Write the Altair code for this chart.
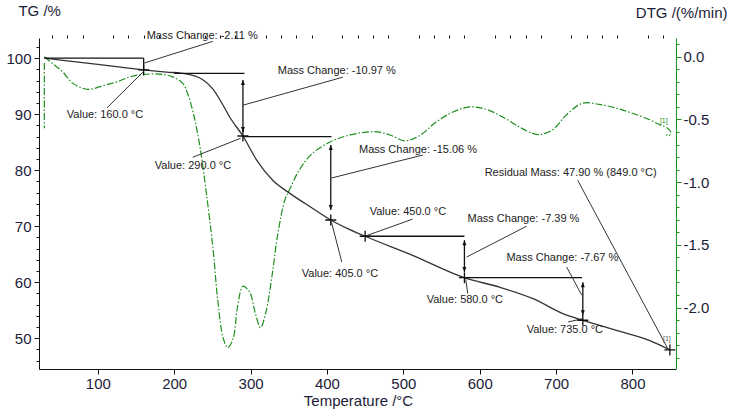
import altair as alt
import pandas as pd

# ---------------- data ----------------
TG_T = [30, 60, 100, 130, 160, 190, 210, 225, 237, 250, 264, 273, 290, 308, 329, 351, 381, 405, 425, 450, 512, 580, 626, 669, 714, 735, 779, 822, 849]
TG_V = [100, 99.5, 98.9, 98.4, 97.9, 97.5, 97.3, 96.9, 96.2, 94.6, 91.6, 89.4, 86.1, 81.8, 78.2, 75.9, 73.2, 71.1, 69.7, 68.2, 64.8, 60.8, 59.1, 57.1, 54.1, 53.2, 51.4, 49.6, 47.9]

DTG_T = [30, 42, 54, 67, 87, 107, 125, 142, 160, 185, 198, 211, 218, 225, 233, 243, 251, 257, 264, 270, 277, 283, 290, 299, 306, 313, 320, 328, 336, 345, 351, 364, 381, 404, 426, 452, 469, 485, 502, 521, 543, 565, 587, 609, 630, 652, 669, 679, 696, 714, 735, 757, 779, 800, 822, 835, 846, 850, 848, 844]
DTG_V = [0.0, -0.06, -0.12, -0.21, -0.26, -0.23, -0.20, -0.16, -0.14, -0.14, -0.16, -0.21, -0.30, -0.45, -0.69, -1.13, -1.54, -1.94, -2.24, -2.32, -2.25, -1.99, -1.83, -1.88, -2.04, -2.16, -2.04, -1.75, -1.40, -1.14, -1.06, -0.90, -0.77, -0.68, -0.63, -0.60, -0.60, -0.63, -0.67, -0.63, -0.52, -0.44, -0.40, -0.42, -0.48, -0.56, -0.61, -0.62, -0.58, -0.46, -0.37, -0.38, -0.41, -0.45, -0.50, -0.54, -0.57, -0.60, -0.63, -0.62]

DTG_START_T = [30]
DTG_START_TOP = [-0.05]
DTG_START_BOT = [-0.57]

# step lines (horizontal)
H_T1 = [30, 200, 290, 450, 580]
H_T2 = [160, 292, 406, 580, 734]
H_V = [100, 97.3, 86.0, 68.2, 60.8]

# plain vertical
PV_T = [160]
PV_TOP = [100]
PV_BOT = [97.9]

# double arrows
A_T = [290, 405, 580, 735]
A_TOP = [96.1, 84.5, 67.5, 60.0]
A_BOT = [86.8, 72.9, 61.8, 54.1]

# leader lines
L_T1 = [160.2, 111.8, 290, 224.3, 406, 406, 449.5, 583, 581.7, 733.5, 716, 728.3]
L_V1 = [99.1, 91.1, 91.6, 82.3, 78.6, 70.7, 68.2, 64.5, 60.5, 57.7, 52.9, 78.2]
L_T2 = [250.5, 159, 420.7, 287, 525.4, 419.4, 512, 661.5, 584.3, 713.9, 735, 846]
L_V2 = [103.0, 97.5, 96.6, 85.7, 82.7, 63.6, 71.25, 70.0, 58.0, 62.7, 53.5, 48.2]

# crosses
CR_T = [160, 290, 405, 450, 580, 735, 849]
CR_V = [97.9, 86.1, 71.1, 68.2, 60.8, 53.2, 47.9]

# labels
LBL = ["Mass Change: -2.11 %", "Value: 160.0 °C", "Mass Change: -10.97 %", "Value: 290.0 °C",
       "Mass Change: -15.06 %", "Value: 405.0 °C", "Value: 450.0 °C", "Mass Change: -7.39 %",
       "Value: 580.0 °C", "Mass Change: -7.67 %", "Value: 735.0 °C", "Residual Mass: 47.90 % (849.0 °C)"]
LBL_T = [164, 59.4, 335.6, 174.6, 442, 367, 456, 584, 530.6, 635, 661.5, 606.5]
LBL_V = [103.9, 89.8, 97.7, 80.7, 83.6, 61.4, 72.5, 71.25, 56.8, 64.3, 51.4, 79.5]

TAG_DTG_T = [841]
TAG_DTG_V = [-0.51]
TAG_TG_T = [845]
TAG_TG_V = [49.8]

# axis title of the TG scale, placed in data units (temperature, TG %)
TG_TITLE = "TG /%"
TG_TITLE_T = [-4]
TG_TITLE_V = [108.5]
DTG_TITLE = "DTG /(%/min)"
X_TITLE = "Temperature /°C"

X_DOM = [23, 857]
TG_DOM = [44.5, 103.6]
DTG_DOM = [-2.49, 0.15]

# ---------------- style ----------------
FONT = "Liberation Sans"
INK = "#1c1c38"
GREEN = "#1f8f1f"
BLACK = "#111111"
DASHDOT = [7, 2, 1.5, 2]

xs = alt.Scale(domain=X_DOM, nice=False, zero=False)
tgs = alt.Scale(domain=TG_DOM, nice=False, zero=False)
dtgs = alt.Scale(domain=DTG_DOM, nice=False, zero=False)

x_main = alt.Axis(values=list(range(100, 801, 100)), format="d", tickSize=5, labelPadding=2,
                  labelFont=FONT, labelFontSize=15, labelColor=INK, domainColor=BLACK, tickColor=BLACK,
                  grid=False, title=X_TITLE, titleFont=FONT, titleFontSize=15,
                  titleFontWeight="normal", titleColor=INK, titleAlign="center", titleBaseline="middle",
                  titleX=319, titleY=31)
x_minor = alt.Axis(values=[v for v in range(40, 857, 20) if v % 100], tickSize=3, labels=False,
                   domain=False, tickColor=BLACK, grid=False, title=None)
tg_main = alt.Axis(orient="left", values=[50, 60, 70, 80, 90, 100], tickSize=5, labelPadding=3,
                   labelFont=FONT, labelFontSize=15, labelColor=INK, domainColor=BLACK, tickColor=BLACK,
                   grid=False, title=None)
tg_minor = alt.Axis(orient="left", values=list(range(46, 103, 2)), tickSize=3, labels=False,
                    domain=False, tickColor=BLACK, grid=False, title=None)
dtg_main = alt.Axis(orient="right", values=[-2.0, -1.5, -1.0, -0.5, 0.0], tickSize=5, labelPadding=2,
                    labelExpr="replace(format(datum.value, '.1f'), '\u2212', '-')",
                    labelFont=FONT, labelFontSize=15, labelColor=INK, domainColor=GREEN, tickColor=GREEN,
                    grid=False, title=DTG_TITLE, titleFont=FONT, titleFontSize=15,
                    titleFontWeight="normal", titleColor=INK, titleAngle=0, titleAlign="right",
                    titleBaseline="middle", titleX=51, titleY=-26)
dtg_minor = alt.Axis(orient="right", values=[round(-2.4 + 0.1 * i, 1) for i in range(26)], tickSize=3,
                     labels=False, domain=False, tickColor=GREEN, grid=False, title=None)


def X(f, axis=None):
    return alt.X(f, type="quantitative", scale=xs, axis=axis)


def YT(f, axis=None):
    return alt.Y(f, type="quantitative", scale=tgs, axis=axis)


def YD(f, axis=None):
    return alt.Y(f, type="quantitative", scale=dtgs, axis=axis)


# ---------------- layers ----------------
dtg_df = pd.DataFrame({"T": DTG_T, "D": DTG_V, "i": list(range(len(DTG_T)))})
dtg_line = alt.Chart(dtg_df).mark_line(color=GREEN, strokeWidth=1.2, strokeDash=DASHDOT,
                                       interpolate="catmull-rom").encode(
    x=X("T"), y=YD("D", dtg_main), order="i:Q")

dtg_start = alt.Chart(pd.DataFrame({"T": DTG_START_T, "a": DTG_START_TOP, "b": DTG_START_BOT})).mark_rule(
    color=GREEN, strokeWidth=1.2, strokeDash=DASHDOT).encode(x=X("T"), y=YD("a"), y2="b")

tg_line = alt.Chart(pd.DataFrame({"T": TG_T, "V": TG_V})).mark_line(
    color="#333333", strokeWidth=1.3, interpolate="monotone").encode(x=X("T", x_main), y=YT("V", tg_main))

h_rules = alt.Chart(pd.DataFrame({"t1": H_T1, "t2": H_T2, "v": H_V})).mark_rule(
    color=BLACK, strokeWidth=1.3).encode(x=X("t1", x_minor), x2="t2", y=YT("v", tg_minor))

pv = alt.Chart(pd.DataFrame({"t": PV_T, "a": PV_TOP, "b": PV_BOT})).mark_rule(
    color=BLACK, strokeWidth=1.3).encode(x=X("t"), y=YT("a"), y2="b")

shafts = alt.Chart(pd.DataFrame({"t": A_T, "a": A_TOP, "b": A_BOT})).mark_rule(
    color=BLACK, strokeWidth=1.3).encode(x=X("t"), y=YT("a"), y2="b")

heads_up = alt.Chart(pd.DataFrame({"t": A_T, "v": A_TOP})).mark_point(
    shape="M0,0L-0.8,2L0.8,2Z", size=25, filled=True, color=BLACK, opacity=1).encode(x=X("t"), y=YT("v"))
heads_dn = alt.Chart(pd.DataFrame({"t": A_T, "v": A_BOT})).mark_point(
    shape="M0,0L-0.8,-2L0.8,-2Z", size=25, filled=True, color=BLACK, opacity=1).encode(x=X("t"), y=YT("v"))

leaders = alt.Chart(pd.DataFrame({"t1": L_T1, "v1": L_V1, "t2": L_T2, "v2": L_V2})).mark_rule(
    color="#333333", strokeWidth=1).encode(x=X("t1"), y=YT("v1"), x2="t2", y2="v2")

crosses = alt.Chart(pd.DataFrame({"t": CR_T, "v": CR_V})).mark_point(
    shape="M-1,0L1,0M0,-1L0,1", size=121, filled=False, color=BLACK, strokeWidth=1.3, opacity=1).encode(
    x=X("t"), y=YT("v"))

labels = alt.Chart(pd.DataFrame({"t": LBL_T, "v": LBL_V, "s": LBL})).mark_text(
    align="left", baseline="middle", font=FONT, fontSize=11, color="#222222").encode(
    x=X("t"), y=YT("v"), text="s:N")

tag_dtg = alt.Chart(pd.DataFrame({"t": TAG_DTG_T, "v": TAG_DTG_V, "s": ["[1]"]})).mark_text(
    align="center", baseline="middle", font=FONT, fontSize=7, color=GREEN).encode(
    x=X("t"), y=YD("v", dtg_minor), text="s:N")

tag_tg = alt.Chart(pd.DataFrame({"t": TAG_TG_T, "v": TAG_TG_V, "s": ["[1]"]})).mark_text(
    align="center", baseline="middle", font=FONT, fontSize=7, color="#555555").encode(
    x=X("t"), y=YT("v"), text="s:N")

tg_title = alt.Chart(pd.DataFrame({"t": TG_TITLE_T, "v": TG_TITLE_V, "s": [TG_TITLE]})).mark_text(
    align="left", baseline="middle", font=FONT, fontSize=15, color=INK).encode(
    x=X("t"), y=YT("v"), text="s:N")

chart = alt.layer(
    dtg_start, dtg_line, tg_line, h_rules, pv, shafts, heads_up, heads_dn, leaders, crosses,
    labels, tag_dtg, tag_tg, tg_title
).resolve_scale(y="independent").resolve_axis(x="independent", y="independent").properties(
    width=637, height=331,
    autosize=alt.AutoSizeParams(type="none"),
    padding={"left": 39, "top": 38, "right": 56, "bottom": 43},
    background="white",
).configure_view(stroke=None)

chart.save("out.html", embed_options={"renderer": "svg", "actions": False})
